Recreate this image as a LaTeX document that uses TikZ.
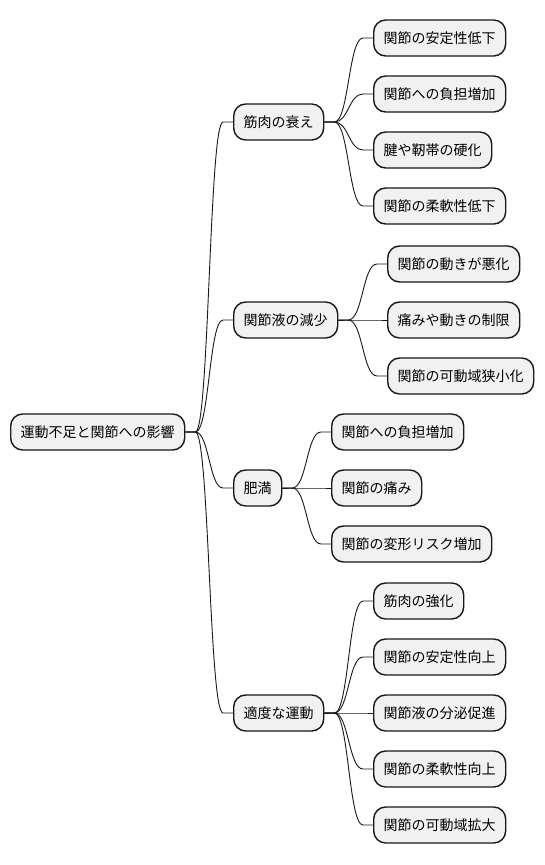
\documentclass[tikz,border=0pt]{standalone}
\usepackage{fontspec}
\setmainfont{Noto Sans CJK JP}
\usetikzlibrary{calc}
\definecolor{boxfill}{HTML}{F1F1F1}
\definecolor{boxline}{HTML}{181818}
\tikzset{
  mmbox/.style={rectangle, rounded corners=12pt, draw=boxline, line width=1.4pt,
    fill=boxfill, inner xsep=10pt, inner ysep=0pt, minimum height=36pt,
    text height=12pt, text depth=2pt, anchor=west,
    font=\fontsize{14pt}{16pt}\selectfont},
  mmlink/.style={draw=boxline, line width=0.9pt}
}
\newcommand\mmlink[2]{%
  \draw[mmlink] let \p1=(#1.east), \p2=(#2.west) in
    (\p1) -- (\x1+10pt,\y1)
    .. controls ({(\x1+\x2)/2},\y1) and ({(\x1+\x2)/2},\y2) ..
    (\x2-10pt,\y2) -- (\p2);}
\begin{document}
\begin{tikzpicture}[x=1pt,y=-1pt]
\useasboundingbox (0,0) rectangle (544,865);
\fill[white] (0,0) rectangle (544,865);
% root
\node[mmbox] (root) at (10,432) {運動不足と関節への影響};
% group 1
\node[mmbox] (g1) at (233,122) {筋肉の衰え};
\node[mmbox] (g1a) at (373,38) {関節の安定性低下};
\node[mmbox] (g1b) at (373,94) {関節への負担増加};
\node[mmbox] (g1c) at (373,150) {腱や靭帯の硬化};
\node[mmbox] (g1d) at (373,206) {関節の柔軟性低下};
% group 2
\node[mmbox] (g2) at (233,320) {関節液の減少};
\node[mmbox] (g2a) at (387,264) {関節の動きが悪化};
\node[mmbox] (g2b) at (387,320) {痛みや動きの制限};
\node[mmbox] (g2c) at (387,376) {関節の可動域狭小化};
% group 3
\node[mmbox] (g3) at (233,488) {肥満};
\node[mmbox] (g3a) at (331,432) {関節への負担増加};
\node[mmbox] (g3b) at (331,488) {関節の痛み};
\node[mmbox] (g3c) at (331,544) {関節の変形リスク増加};
% group 4
\node[mmbox] (g4) at (233,713) {適度な運動};
\node[mmbox] (g4a) at (373,601) {筋肉の強化};
\node[mmbox] (g4b) at (373,657) {関節の安定性向上};
\node[mmbox] (g4c) at (373,713) {関節液の分泌促進};
\node[mmbox] (g4d) at (373,769) {関節の柔軟性向上};
\node[mmbox] (g4e) at (373,825) {関節の可動域拡大};
% links
\mmlink{root}{g1}
\mmlink{root}{g2}
\mmlink{root}{g3}
\mmlink{root}{g4}
\mmlink{g1}{g1a}
\mmlink{g1}{g1b}
\mmlink{g1}{g1c}
\mmlink{g1}{g1d}
\mmlink{g2}{g2a}
\mmlink{g2}{g2b}
\mmlink{g2}{g2c}
\mmlink{g3}{g3a}
\mmlink{g3}{g3b}
\mmlink{g3}{g3c}
\mmlink{g4}{g4a}
\mmlink{g4}{g4b}
\mmlink{g4}{g4c}
\mmlink{g4}{g4d}
\mmlink{g4}{g4e}
\end{tikzpicture}
\end{document}
